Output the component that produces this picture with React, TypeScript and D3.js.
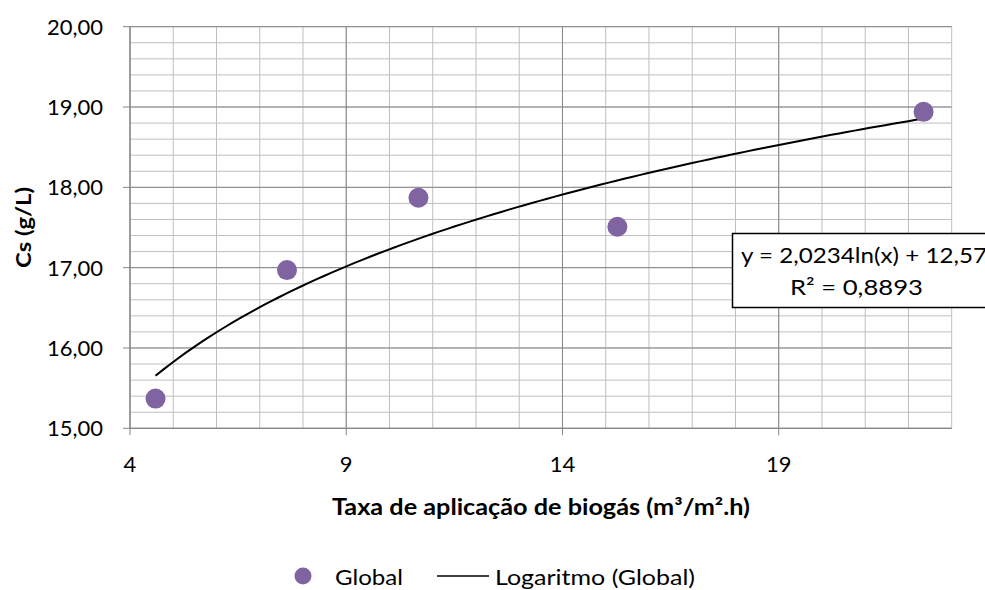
import React from "react";
import * as d3 from "d3";

// application rate (m3/m2.h) and Cs (g/L)
const taxa = [4.59, 7.63, 10.67, 15.27, 22.35];
const cs = [15.37, 16.97, 17.87, 17.51, 18.94];
const xTicks = [4, 9, 14, 19];
const yTicks = [15, 16, 17, 18, 19, 20];
// Excel log trendline y = a ln(x) + b
const trendA = 2.0234;
const trendB = 12.57;
const eqText = "y = 2,0234ln(x) + 12,57";
const r2Text = "R² = 0,8893";

const W = 985, H = 590;
const font = "Lato, 'Open Sans', sans-serif";

export default function App() {
  const x = d3.scaleLinear().domain([4, 23]).range([130, 951.7]);
  const y = d3.scaleLinear().domain([15, 20]).range([428.3, 26.7]);

  const minorX = d3.range(4, 23.001, 1);
  const minorY = d3.range(15, 20.001, 0.2);

  const xmin = d3.min(taxa)!, xmax = d3.max(taxa)!;
  const trendPts: [number, number][] = d3
    .range(0, 101)
    .map((i) => xmin + ((xmax - xmin) * i) / 100)
    .map((v) => [v, trendA * Math.log(v) + trendB]);
  const line = d3
    .line<[number, number]>()
    .x((d) => x(d[0]))
    .y((d) => y(d[1]));

  const fmt = (v: number) => v.toFixed(2).replace(".", ",");

  return (
    <svg
      width={W}
      height={H}
      style={{ position: "absolute", left: 0, top: 0, background: "#fff" }}
      fontFamily={font}
    >
      <rect width={W} height={H} fill="#fff" />
      {/* minor grid */}
      {minorX.map((v) => (
        <line key={"mx" + v} x1={x(v)} x2={x(v)} y1={y(15)} y2={y(20)} stroke="#bfbfbf" strokeWidth={1} />
      ))}
      {minorY.map((v) => (
        <line key={"my" + v} x1={x(4)} x2={x(23)} y1={y(v)} y2={y(v)} stroke="#bfbfbf" strokeWidth={1} />
      ))}
      {/* major grid */}
      {xTicks.map((v) => (
        <line key={"gx" + v} x1={x(v)} x2={x(v)} y1={y(15)} y2={y(20)} stroke="#868686" strokeWidth={1} />
      ))}
      {yTicks.map((v) => (
        <line key={"gy" + v} x1={x(4)} x2={x(23)} y1={y(v)} y2={y(v)} stroke="#868686" strokeWidth={1} />
      ))}
      {/* axes */}
      <line x1={x(4)} x2={x(23)} y1={y(15)} y2={y(15)} stroke="#868686" />
      <line x1={x(4)} x2={x(4)} y1={y(15)} y2={y(20)} stroke="#868686" />
      {yTicks.map((v) => (
        <g key={"yt" + v}>
          <line x1={x(4) - 7} x2={x(4)} y1={y(v)} y2={y(v)} stroke="#868686" />
          <text x={103} y={y(v)} dy="0.36em" textAnchor="end" fontSize={22} fill="#000">
            {fmt(v)}
          </text>
        </g>
      ))}
      {xTicks.map((v) => (
        <g key={"xt" + v}>
          <line x1={x(v)} x2={x(v)} y1={y(15)} y2={y(15) + 7} stroke="#868686" />
          <text x={x(v)} y={472} textAnchor="middle" fontSize={22} fill="#000">
            {v}
          </text>
        </g>
      ))}

      {/* trendline */}
      <path d={line(trendPts) || ""} fill="none" stroke="#000" strokeWidth={2} />

      {/* points */}
      {taxa.map((v, i) => (
        <circle key={"p" + i} cx={x(v)} cy={y(cs[i])} r={10} fill="#8064a2" />
      ))}

      {/* equation label */}
      <rect x={732.5} y={233.5} width={270} height={74} fill="#fff" stroke="#000" strokeWidth={1.5} />
      <text x={741} y={263} fontSize={22} fill="#000" textLength={246} lengthAdjust="spacingAndGlyphs">
        {eqText}
      </text>
      <text x={790} y={295} fontSize={22} fill="#000" textLength={133} lengthAdjust="spacingAndGlyphs">
        {r2Text}
      </text>

      {/* axis titles */}
      <text
        transform={`translate(31, 268) rotate(-90)`}
        fontSize={21}
        fontWeight="bold"
        fill="#000"
        textLength={81}
        lengthAdjust="spacingAndGlyphs"
      >
        Cs (g/L)
      </text>
      <text
        x={332}
        y={515}
        fontSize={22}
        fontWeight="bold"
        fill="#000"
        textLength={418}
        lengthAdjust="spacingAndGlyphs"
      >
        Taxa de aplicação de biogás (m³/m².h)
      </text>

      {/* legend */}
      <circle cx={303} cy={576} r={8.5} fill="#8064a2" />
      <text x={335} y={585} fontSize={22} fill="#000" textLength={68} lengthAdjust="spacingAndGlyphs">
        Global
      </text>
      <line x1={437} x2={489} y1={576} y2={576} stroke="#000" strokeWidth={1.5} />
      <text x={495} y={585} fontSize={22} fill="#000" textLength={200} lengthAdjust="spacingAndGlyphs">
        Logaritmo (Global)
      </text>
    </svg>
  );
}
